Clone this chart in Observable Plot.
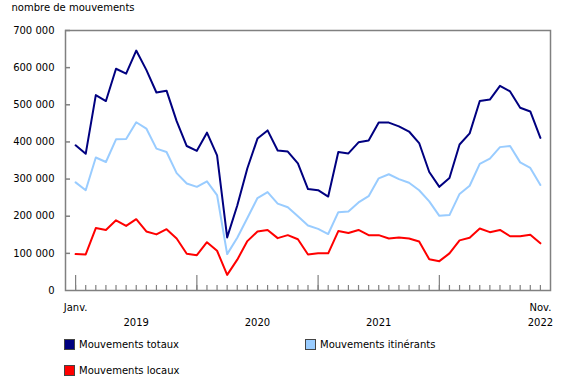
<!DOCTYPE html>
<html>
<head>
<meta charset="utf-8">
<script src="https://cdn.jsdelivr.net/npm/d3@7"></script>
<script src="https://cdn.jsdelivr.net/npm/@observablehq/plot@0.6"></script>
<style>
  html, body { margin: 0; padding: 0; background: #fff; }
  body { width: 580px; height: 385px; overflow: hidden; font-family: "DejaVu Sans", Verdana, sans-serif; font-size: 10px; color: #000; }
  #legend { position: relative; height: 55px; }
  .item { position: absolute; display: flex; align-items: center; white-space: nowrap; }
  .sw { width: 11px; height: 11px; border: 1px solid #444; box-sizing: border-box; margin-right: 4px; }
</style>
</head>
<body>
<div id="chart"></div>
<div id="legend"></div>
<script>
// Monthly series, January 2019 to November 2022
const totalMovements = [391000,368000,526000,510000,597000,584000,646000,594000,533000,538000,456000,389000,
  376000,425000,364000,143000,229000,329000,409000,431000,377000,374000,342000,273000,
  270000,253000,373000,369000,399000,404000,452000,452000,442000,428000,397000,319000,
  279000,303000,393000,423000,510000,514000,551000,536000,492000,482000,411000];
const itinerantMovements = [291000,270000,358000,346000,407000,408000,453000,436000,382000,373000,316000,288000,
  279000,294000,257000,98000,142000,195000,249000,265000,234000,224000,200000,175000,
  166000,152000,211000,213000,237000,254000,302000,313000,300000,290000,270000,240000,
  201000,203000,260000,282000,341000,355000,386000,389000,345000,330000,284000];
const localMovements = [98000,97000,168000,163000,189000,174000,192000,159000,151000,165000,140000,99000,
  95000,130000,107000,42000,83000,133000,159000,163000,141000,149000,138000,97000,
  100000,100000,160000,155000,163000,149000,149000,140000,143000,140000,132000,84000,
  79000,100000,135000,142000,167000,157000,163000,146000,146000,150000,127000];

const years = ["2019", "2020", "2021", "2022"];
const firstMonthLabel = "Janv.";
const lastMonthLabel = "Nov.";
const yTicks = [0, 100000, 200000, 300000, 400000, 500000, 600000, 700000];
const yTitle = "nombre de mouvements";
const seriesNames = ["Mouvements totaux", "Mouvements itinérants", "Mouvements locaux"];
const seriesColors = ["#000080", "#99ccff", "#ff0000"];

const n = totalMovements.length;
const idx = d3.range(n);
const xDomain = [-1, n];
const rows = (vals) => vals.map((v, i) => ({i, v}));

// year positions: labels centred in each year's span (between January ticks), last on final month
const yearPos = years.map((y, k) => ({label: y, i: k < years.length - 1 ? k * 12 + 6 : n - 1}));
const janIdx = idx.filter(i => i % 12 === 0);

const fmt = d => d3.format(",")(d).replace(/,/g, " ");

const plot = Plot.plot({
  width: 580,
  height: 330,
  marginLeft: 65,
  marginRight: 30,
  marginTop: 30,
  marginBottom: 40,
  style: {fontFamily: "DejaVu Sans, Verdana, sans-serif", fontSize: "10px", color: "#000", background: "#fff"},
  x: {domain: xDomain, axis: null},
  y: {domain: [0, 700000], ticks: yTicks, tickFormat: fmt, tickSize: 0, tickPadding: 11, label: null},
  marks: [
    Plot.ruleY(yTicks.filter(t => t > 0), {y: d => d, x1: xDomain[0], x2: xDomain[0], insetRight: -5, stroke: "#808080", strokeWidth: 1.5}),
    Plot.ruleX(idx, {x: d => d, y1: 0, y2: 0, insetTop: -5, stroke: "#808080", strokeWidth: 1.2}),
    Plot.ruleX(janIdx, {x: d => d, y1: 0, y2: 0, insetTop: -15, stroke: "#808080", strokeWidth: 1.2}),
    Plot.frame({stroke: "#808080", strokeWidth: 1.5}),
    Plot.lineY(rows(localMovements), {x: "i", y: "v", stroke: seriesColors[2], strokeWidth: 2}),
    Plot.lineY(rows(itinerantMovements), {x: "i", y: "v", stroke: seriesColors[1], strokeWidth: 2}),
    Plot.lineY(rows(totalMovements), {x: "i", y: "v", stroke: seriesColors[0], strokeWidth: 2}),
    Plot.text([{i: 0, t: firstMonthLabel}, {i: n - 1, t: lastMonthLabel}], {x: "i", y: () => 0, text: "t", dy: 17, lineAnchor: "middle", fill: "#000"}),
    Plot.text(yearPos, {x: "i", y: () => 0, text: "label", dy: 32, lineAnchor: "middle", fill: "#000"}),
    Plot.text([yTitle], {frameAnchor: "top-left", text: d => d, dx: -54, dy: -23, textAnchor: "start", lineAnchor: "middle", fill: "#000"})
  ]
});
document.getElementById("chart").appendChild(plot);

const legend = document.getElementById("legend");
const legendPos = [[64, 9], [305, 9], [64, 35]];
seriesNames.forEach((name, k) => {
  const it = document.createElement("div");
  it.className = "item";
  it.style.left = legendPos[k][0] + "px";
  it.style.top = legendPos[k][1] + "px";
  const sw = document.createElement("span");
  sw.className = "sw";
  sw.style.background = seriesColors[k];
  const tx = document.createElement("span");
  tx.textContent = name;
  it.appendChild(sw);
  it.appendChild(tx);
  legend.appendChild(it);
});
</script>
</body>
</html>
